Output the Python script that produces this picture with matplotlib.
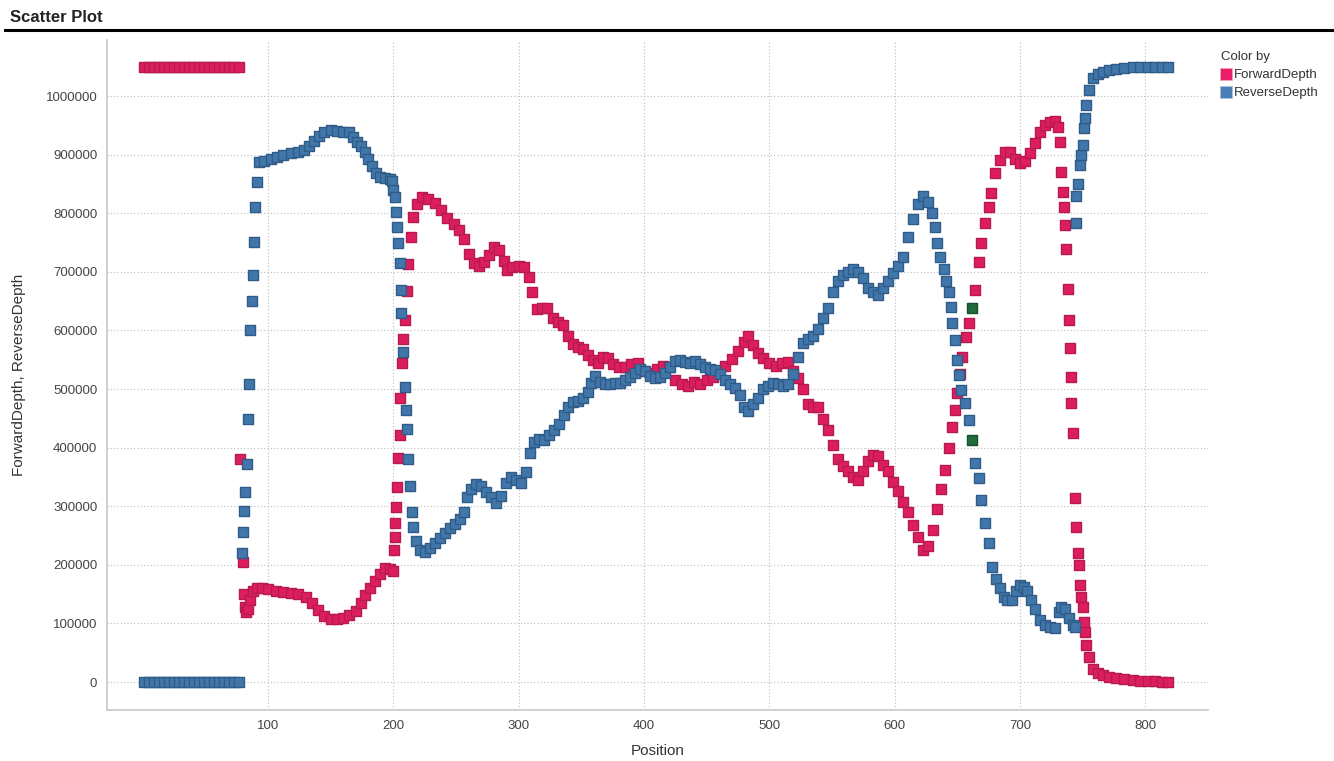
import numpy as np
import matplotlib
matplotlib.use("Agg")
import matplotlib.pyplot as plt
from matplotlib.lines import Line2D

plt.rcParams['font.family'] = ['Liberation Sans', 'DejaVu Sans']

# ForwardDepth readings (position, depth)
fwd_pos = [1, 5, 9, 13, 17, 21, 25, 29, 33, 37, 41, 45, 49, 53, 57, 61, 65, 69, 73, 77,
           78, 80, 80.5, 81.5, 82.5, 84, 86, 88, 91, 95, 100, 106, 112, 118, 124, 130, 135,
           140, 145, 150, 155, 160, 165, 170, 174, 177, 181, 185, 189, 193, 197, 200,
           200.5, 201, 201.5, 202, 203, 204, 205, 205.5, 207, 208, 209, 211, 212, 214, 216,
           219, 223, 228, 233, 238, 243, 248, 252, 256, 260, 264, 268, 272, 276, 280, 284,
           288, 291, 295, 300, 304, 308, 311, 315, 319, 323, 327, 331, 335, 339, 343, 347,
           351, 355, 359, 363, 367, 371, 375, 380, 385, 390, 395, 400, 405, 410, 415, 420,
           425, 430, 435, 440, 445, 450, 455, 460, 465, 470, 475, 480, 483, 487, 491, 495,
           500, 505, 510, 515, 519, 523, 527, 531, 535, 539, 543, 547, 551, 555, 559, 563,
           567, 571, 575, 579, 583, 587, 591, 595, 599, 603, 607, 611, 615, 619, 623, 627,
           631, 634, 637, 640, 643, 646, 648, 650, 652, 654, 657, 659, 664, 667, 669, 672,
           675, 677, 680, 684, 688, 692, 696, 700, 704, 708, 712, 716, 720, 724, 728, 730,
           732, 733, 734, 735, 736, 737, 738, 739, 740, 740.5, 741, 742.5, 744, 745, 746,
           747, 748, 749, 750, 751, 752, 753, 755, 758, 762, 766, 771, 777, 783, 790, 796,
           802, 808, 813, 818]
fwd_val = [1050000, 1050000, 1050000, 1050000, 1050000, 1050000, 1050000, 1050000,
           1050000, 1050000, 1050000, 1050000, 1050000, 1050000, 1050000, 1050000,
           1050000, 1050000, 1050000, 1050000,
           380000, 205000, 150000, 128000, 120000, 125000, 140000, 155000, 160000, 160000,
           158000, 156000, 154000, 152000, 150000, 145000, 135000, 123000, 113000, 107000,
           107000, 110000, 114000, 122000, 135000, 148000, 160000, 172000, 185000, 195000,
           193000, 190000,
           225000, 247000, 271000, 299000, 333000, 382000, 421000, 485000, 544000, 585000,
           618000, 667000, 713000, 759000, 794000, 815000, 828000, 825000, 818000, 805000,
           792000, 782000, 772000, 756000, 730000, 715000, 710000, 716000, 728000, 742000,
           738000, 718000, 703000, 708000, 710000, 708000, 692000, 665000, 636000, 638000,
           638000, 622000, 614000, 610000, 590000, 577000, 572000, 568000, 558000, 550000,
           545000, 555000, 553000, 543000, 537000, 537000, 543000, 545000, 530000, 528000,
           535000, 540000, 537000, 515000, 508000, 505000, 512000, 508000, 515000, 520000,
           530000, 540000, 552000, 565000, 580000, 590000, 575000, 562000, 553000, 545000,
           540000, 545000, 546000, 530000, 518000, 500000, 475000, 470000, 470000, 448000,
           430000, 405000, 380000, 368000, 360000, 350000, 345000, 360000, 378000, 388000,
           385000, 370000, 360000, 342000, 326000, 308000, 290000, 268000, 248000, 225000,
           232000, 259000, 295000, 330000, 362000, 400000, 435000, 464000, 493000, 525000,
           555000, 589000, 612000, 669000, 717000, 749000, 783000, 811000, 834000, 869000,
           891000, 905000, 905000, 893000, 885000, 890000, 902000, 920000, 938000, 950000,
           955000, 957000, 947000, 921000, 870000, 836000, 811000, 780000, 739000, 671000,
           618000, 570000, 520000, 476000, 425000, 314000, 264000, 220000, 200000, 165000,
           145000, 128000, 102000, 85000, 63000, 43000, 22000, 15000, 12000, 9000, 7000,
           5000, 3500, 2500, 1500, 1000, 500, 0]

# ReverseDepth readings (position, depth)
rev_pos = [1, 5, 9, 13, 17, 21, 25, 29, 33, 37, 41, 45, 49, 53, 57, 61, 65, 69, 73, 77,
           79, 80, 81, 82, 83, 84, 85, 86, 87, 88, 89, 90, 91, 93, 97, 102, 107, 112, 118,
           124, 129, 133, 137, 141, 145, 150, 155, 160, 165, 168, 171, 174, 177, 180, 183,
           186, 189, 193, 197, 199, 200, 201, 202, 203, 204, 205, 206, 206.5, 207.5, 209,
           210, 211, 212, 213, 215, 216, 218, 221, 225, 229, 233, 237, 241, 245, 249, 253,
           256, 259, 262, 266, 270, 274, 278, 282, 286, 290, 294, 298, 302, 306, 309, 312,
           316, 320, 324, 328, 332, 336, 339, 343, 347, 351, 355, 358, 361, 365, 369, 373,
           377, 381, 385, 389, 393, 397, 401, 405, 409, 413, 417, 421, 425, 429, 433, 437,
           441, 445, 449, 453, 457, 461, 465, 469, 473, 477, 480, 483, 487, 491, 495, 499,
           503, 507, 511, 515, 519, 523, 527, 531, 535, 539, 543, 547, 551, 555, 559, 563,
           567, 571, 575, 579, 583, 587, 591, 595, 599, 603, 607, 611, 615, 619, 623, 627,
           630, 632, 634, 636, 639, 641, 643, 645, 646, 648, 650, 651, 653, 656, 659, 664,
           667, 669, 672, 675, 678, 681, 684, 687, 690, 694, 697, 700, 703, 706, 709, 712,
           716, 720, 724, 728, 731, 733, 736, 739, 742, 744, 744.5, 745, 746, 748, 749, 750,
           751, 752, 753, 755, 758, 762, 766, 771, 777, 783, 790, 796, 802, 808, 813, 818]
rev_val = [0, 0, 0, 0, 0, 0, 0, 0, 0, 0, 0, 0, 0, 0, 0, 0, 0, 0, 0, 0,
           220000, 256000, 292000, 324000, 372000, 449000, 509000, 600000, 650000, 695000,
           751000, 810000, 853000, 887000, 890000, 893000, 896000, 900000, 903000, 905000,
           908000, 915000, 923000, 932000, 938000, 942000, 940000, 938000, 938000, 930000,
           922000, 915000, 905000, 893000, 880000, 868000, 862000, 860000, 858000, 855000,
           840000, 828000, 802000, 776000, 749000, 715000, 669000, 630000, 563000, 503000,
           464000, 432000, 381000, 334000, 290000, 265000, 240000, 225000, 222000, 228000,
           238000, 246000, 255000, 263000, 270000, 278000, 290000, 315000, 330000, 338000,
           335000, 325000, 315000, 305000, 318000, 340000, 350000, 345000, 340000, 358000,
           390000, 410000, 415000, 413000, 422000, 430000, 440000, 455000, 470000, 478000,
           480000, 485000, 495000, 510000, 522000, 512000, 508000, 508000, 510000, 510000,
           515000, 520000, 528000, 535000, 530000, 522000, 518000, 520000, 528000, 538000,
           548000, 550000, 546000, 545000, 548000, 543000, 537000, 535000, 532000, 525000,
           515000, 508000, 502000, 490000, 470000, 462000, 475000, 485000, 500000, 505000,
           510000, 508000, 505000, 508000, 525000, 555000, 578000, 585000, 590000, 603000,
           622000, 638000, 665000, 685000, 695000, 700000, 705000, 700000, 690000, 672000,
           665000, 660000, 672000, 685000, 698000, 710000, 725000, 760000, 790000, 815000,
           830000, 820000, 800000, 776000, 750000, 725000, 705000, 685000, 665000, 640000,
           613000, 584000, 550000, 524000, 498000, 476000, 447000, 374000, 348000, 311000,
           271000, 237000, 196000, 175000, 160000, 145000, 140000, 140000, 155000, 165000,
           162000, 155000, 140000, 125000, 106000, 97000, 94000, 92000, 120000, 128000,
           125000, 110000, 98000, 94000, 783000, 829000, 850000, 882000, 899000, 916000,
           945000, 962000, 985000, 1010000, 1030000, 1037000, 1041000, 1044000, 1047000,
           1048000, 1049000, 1050000, 1050000, 1050000, 1050000, 1050000]

# marked (highlighted) rows
marked_pos = [662, 662]
marked_val = [638000, 413000]

fig = plt.figure(figsize=(13.34, 7.61), dpi=100)
ax = fig.add_axes([0.0802, 0.067, 0.8253, 0.8804])

pink = '#e91e68'
blue = '#4a7fb5'
ax.scatter(fwd_pos, fwd_val, s=56, marker='s', c='#dc1e5f', edgecolors='#b81a4f',
           linewidths=1.0, zorder=3)
ax.scatter(rev_pos, rev_val, s=56, marker='s', c='#4176ab', edgecolors='#2f5b86',
           linewidths=1.0, zorder=3)
ax.scatter(marked_pos, marked_val, s=56, marker='s', c='#1f6b3a', edgecolors='#17502b',
           linewidths=1.0, zorder=4)

ax.set_xlim(-28.5, 850)
ax.set_ylim(-47800, 1095600)
ax.set_xticks([100, 200, 300, 400, 500, 600, 700, 800])
ax.set_yticks(np.arange(0, 1000001, 100000))
ax.set_yticklabels([str(v) for v in range(0, 1000001, 100000)])
ax.tick_params(axis='both', length=0, labelsize=9.5, labelcolor='#444444', pad=7)
ax.grid(True, linestyle=(0, (1, 2)), color='#bdbdbd', linewidth=0.8, zorder=0)
ax.set_axisbelow(True)
for side in ['top', 'right']:
    ax.spines[side].set_visible(False)
for side in ['left', 'bottom']:
    ax.spines[side].set_color('#c8c8c8')
    ax.spines[side].set_linewidth(1.2)

ax.set_xlabel('Position', fontsize=11, color='#333333', labelpad=9)
ax.set_ylabel('ForwardDepth, ReverseDepth', fontsize=11, color='#333333', labelpad=14)

# title and rule
fig.text(0.0075, 0.977, 'Scatter Plot', fontsize=12, fontweight='bold', va='center',
         ha='left', color='#222222')
fig.add_artist(Line2D([0.004, 1.0], [0.961, 0.961], color='black', linewidth=2.2))

# legend
handles = [Line2D([], [], marker='s', linestyle='', markersize=9, markerfacecolor=pink,
                  markeredgecolor='#f7a3c0', markeredgewidth=0.6),
           Line2D([], [], marker='s', linestyle='', markersize=9, markerfacecolor=blue,
                  markeredgecolor='#a9c3de', markeredgewidth=0.6)]
leg = fig.legend(handles, ['ForwardDepth', 'ReverseDepth'], title='Color by',
                 loc='upper left', bbox_to_anchor=(0.908, 0.945), frameon=False,
                 fontsize=9.5, title_fontsize=9.5, handlelength=0.8, handletextpad=0.2,
                 labelspacing=0.45, borderpad=0.2)
leg._legend_box.align = 'left'
for t in leg.get_texts():
    t.set_color('#333333')
leg.get_title().set_color('#333333')

fig.savefig('out.png', dpi=100)
